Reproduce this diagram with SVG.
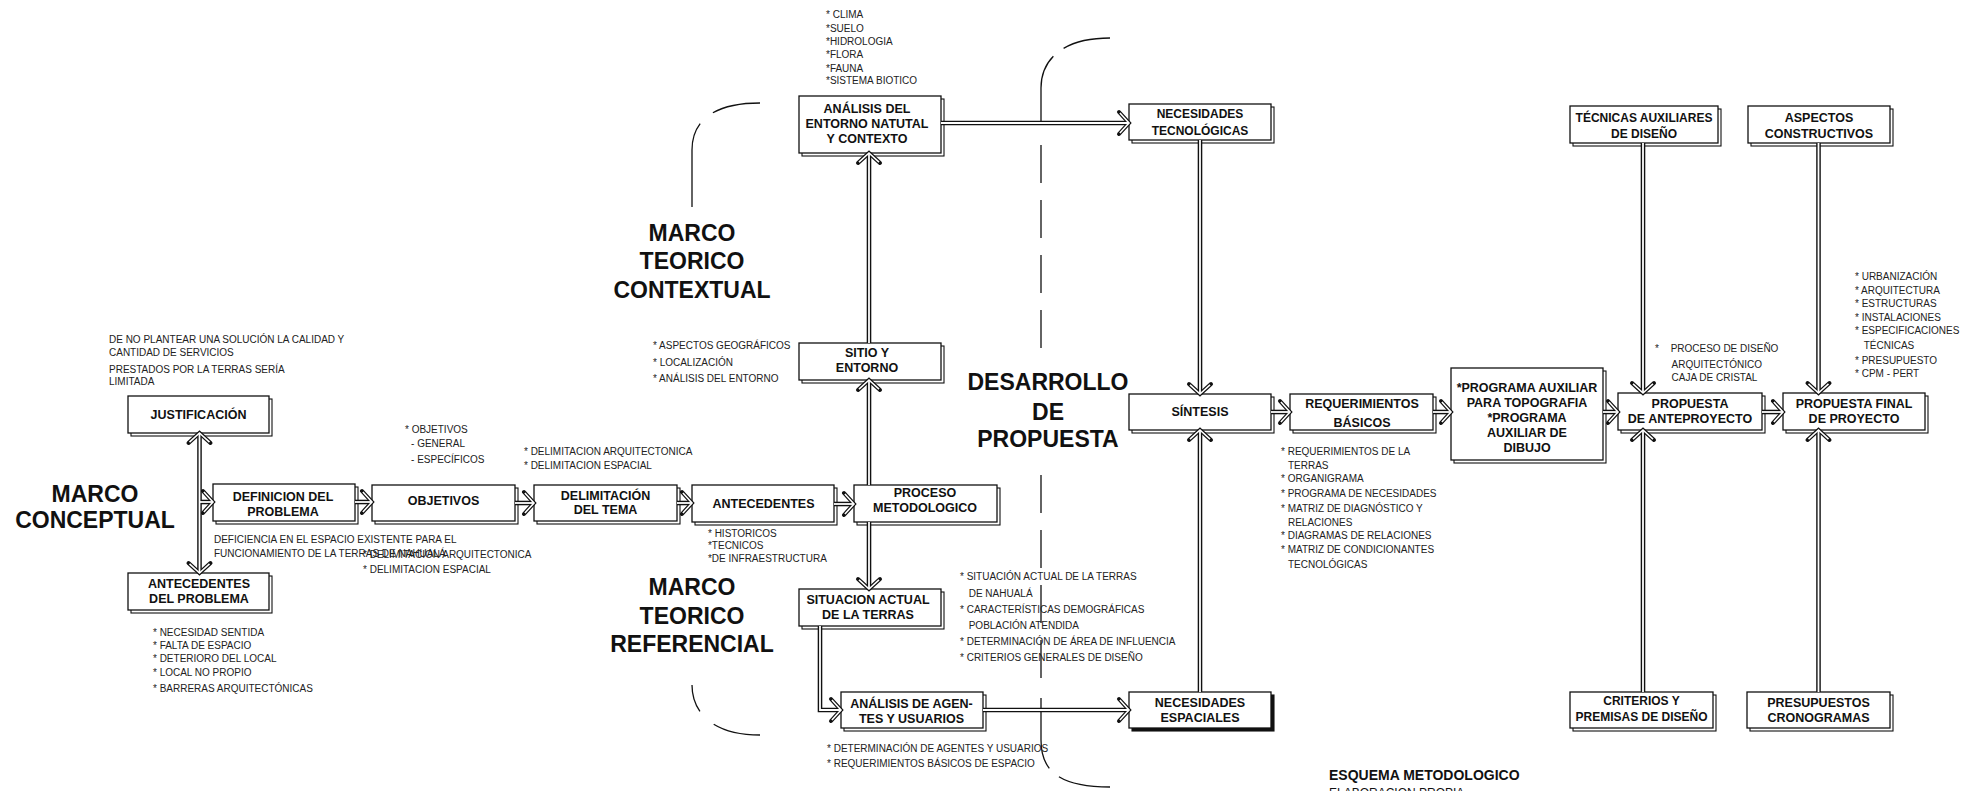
<svg xmlns="http://www.w3.org/2000/svg" xmlns:xlink="http://www.w3.org/1999/xlink" width="1968" height="791" viewBox="0 0 1968 791">
  <style>
    .bg { fill: #fff; }
    .box { fill: #fff; stroke: #111; stroke-width: 1.3; }
    .shd { fill: #fff; stroke: #111; stroke-width: 1.1; }
    .shd-solid { fill: #111; stroke: #111; stroke-width: 1.1; }
    .lbl { font-family: "Liberation Sans", Arial, sans-serif; font-weight: bold; font-size: 12.5px; fill: #111; text-anchor: middle; }
    .lbl-s { font-size: 12px; }
    .big { font-family: "Liberation Sans", Arial, sans-serif; font-weight: bold; font-size: 23px; fill: #111; text-anchor: middle; }
    .title { font-family: "Liberation Sans", Arial, sans-serif; font-weight: bold; font-size: 14px; fill: #111; }
    .sub { font-family: "Liberation Sans", Arial, sans-serif; font-size: 12px; fill: #111; }
    .n { font-family: "Liberation Sans", Arial, sans-serif; font-size: 11.5px; fill: #222;
         transform-box: fill-box; transform-origin: 0 0; transform: scaleX(0.87); }
    .dl-o { fill: none; stroke: #111; stroke-width: 4.6; stroke-linejoin: miter; }
    .dl-i { fill: none; stroke: #fff; stroke-width: 1.8; stroke-linejoin: miter; }
    .br { fill: none; stroke: #111; stroke-width: 1.3; }
  </style>
  <defs>
    <!-- open chevron arrowhead, tip at origin, pointing up -->
    <path id="chevO" d="M-11,10 L0,0 L11,10" stroke-linecap="round"/>
    <path id="chevI" d="M-10,9.1 L0,0 L10,9.1"/>
    <!-- double-line connector paths -->
    <path id="c1" d="M199.5,433 V573"/>
    <path id="c2" d="M199.5,502 H213"/>
    <path id="c3" d="M355,502 H372"/>
    <path id="c4" d="M515,503 H534"/>
    <path id="c5" d="M677,503 H692"/>
    <path id="c6" d="M834,504 H854"/>
    <path id="c7" d="M869,485 V380"/>
    <path id="c8" d="M869,343 V153"/>
    <path id="c9" d="M869,522 V589"/>
    <path id="c10" d="M820,626 V710 H841"/>
    <path id="c11" d="M983,710 H1129"/>
    <path id="c12" d="M941,123 H1129"/>
    <path id="c13" d="M1200,140 V394"/>
    <path id="c14" d="M1200,692 V430"/>
    <path id="c15" d="M1271,412 H1290"/>
    <path id="c16" d="M1433,412 H1451"/>
    <path id="c17" d="M1603,412 H1618"/>
    <path id="c18" d="M1762,412 H1783"/>
    <path id="c19" d="M1643,143 V393"/>
    <path id="c20" d="M1643,692 V430"/>
    <path id="c21" d="M1818.5,143 V393"/>
    <path id="c22" d="M1818.5,692 V430"/>
  </defs>

  <rect class="bg" x="0" y="0" width="1968" height="791"/>

  <!-- section brackets -->
  <g id="brackets">
    <path class="br" d="M692,207 V150 C692,122 712,103 760,103" stroke-dasharray="85 17 300"/>
    <path class="br" d="M692,685 C692,712 712,735 760,735" stroke-dasharray="28 19 300"/>
    <path class="br" d="M1041,123 V88 C1041,60 1062,38 1110,38" stroke-dasharray="70 13 300"/>
    <path class="br" d="M1041,145 V350" stroke-dasharray="38 17"/>
    <path class="br" d="M1041,475 V678" stroke-dasharray="38 17"/>
    <path class="br" d="M1041,698 V740 C1041,770 1058,787 1110,787" stroke-dasharray="72 13 300"/>
  </g>

  <!-- section headings -->
  <g id="headings">
    <text class="big" x="95" y="502">MARCO</text>
    <text class="big" x="95" y="528">CONCEPTUAL</text>
    <text class="big" x="692" y="241">MARCO</text>
    <text class="big" x="692" y="269">TEORICO</text>
    <text class="big" x="692" y="298">CONTEXTUAL</text>
    <text class="big" x="692" y="595">MARCO</text>
    <text class="big" x="692" y="624">TEORICO</text>
    <text class="big" x="692" y="652">REFERENCIAL</text>
    <text class="big" x="1048" y="390">DESARROLLO</text>
    <text class="big" x="1048" y="420">DE</text>
    <text class="big" x="1048" y="447">PROPUESTA</text>
    <text class="title" x="1329" y="780">ESQUEMA METODOLOGICO</text>
    <text class="sub" x="1329" y="797">ELABORACION PROPIA</text>
  </g>

  <!-- nodes -->
  <g id="justificacion">
    <rect class="shd" x="131" y="399" width="141" height="37"/>
    <rect class="box" x="128" y="396" width="141" height="37"/>
    <text class="lbl" x="198.5" y="419">JUSTIFICACIÓN</text>
  </g>
  <g id="definicion-problema">
    <rect class="shd" x="216" y="487" width="142" height="37"/>
    <rect class="box" x="213" y="484" width="142" height="37"/>
    <text class="lbl" x="283" y="501">DEFINICION DEL</text>
    <text class="lbl" x="283" y="515.5">PROBLEMA</text>
  </g>
  <g id="antecedentes-problema">
    <rect class="shd" x="131" y="576" width="141" height="37"/>
    <rect class="box" x="128" y="573" width="141" height="37"/>
    <text class="lbl" x="199" y="588">ANTECEDENTES</text>
    <text class="lbl" x="199" y="603">DEL PROBLEMA</text>
  </g>
  <g id="objetivos">
    <rect class="shd" x="375" y="488" width="143" height="36"/>
    <rect class="box" x="372" y="485" width="143" height="36"/>
    <text class="lbl" x="443.5" y="505">OBJETIVOS</text>
  </g>
  <g id="delimitacion">
    <rect class="shd" x="537" y="488" width="143" height="36"/>
    <rect class="box" x="534" y="485" width="143" height="36"/>
    <text class="lbl" x="605.5" y="500">DELIMITACIÓN</text>
    <text class="lbl" x="605.5" y="514">DEL TEMA</text>
  </g>
  <g id="antecedentes">
    <rect class="shd" x="695" y="488" width="142" height="37"/>
    <rect class="box" x="692" y="485" width="142" height="37"/>
    <text class="lbl" x="763.5" y="508">ANTECEDENTES</text>
  </g>
  <g id="proceso">
    <rect class="shd" x="857" y="488" width="143" height="37"/>
    <rect class="box" x="854" y="485" width="143" height="37"/>
    <text class="lbl" x="925" y="497">PROCESO</text>
    <text class="lbl" x="925" y="512">METODOLOGICO</text>
  </g>
  <g id="situacion">
    <rect class="shd" x="802" y="592" width="142" height="37"/>
    <rect class="box" x="799" y="589" width="142" height="37"/>
    <text class="lbl" x="868" y="604">SITUACION ACTUAL</text>
    <text class="lbl" x="868" y="619">DE LA TERRAS</text>
  </g>
  <g id="agentes">
    <rect class="shd" x="844" y="695" width="142" height="36"/>
    <rect class="box" x="841" y="692" width="142" height="36"/>
    <text class="lbl" x="911.5" y="708">ANÁLISIS DE AGEN-</text>
    <text class="lbl" x="911.5" y="723">TES Y USUARIOS</text>
  </g>
  <g id="sitio">
    <rect class="shd" x="802" y="346" width="142" height="37"/>
    <rect class="box" x="799" y="343" width="142" height="37"/>
    <text class="lbl" x="867" y="357">SITIO Y</text>
    <text class="lbl" x="867" y="372">ENTORNO</text>
  </g>
  <g id="entorno-natural">
    <rect class="shd" x="802" y="99" width="142" height="57"/>
    <rect class="box" x="799" y="96" width="142" height="57"/>
    <text class="lbl" x="867" y="113">ANÁLISIS DEL</text>
    <text class="lbl" x="867" y="128">ENTORNO NATUTAL</text>
    <text class="lbl" x="867" y="143">Y CONTEXTO</text>
  </g>
  <g id="necesidades-tecnologicas">
    <rect class="shd" x="1132" y="107" width="142" height="36"/>
    <rect class="box" x="1129" y="104" width="142" height="36"/>
    <text class="lbl lbl-s" x="1200" y="118">NECESIDADES</text>
    <text class="lbl lbl-s" x="1200" y="135">TECNOLÓGICAS</text>
  </g>
  <g id="sintesis">
    <rect class="shd" x="1132" y="397" width="142" height="36"/>
    <rect class="box" x="1129" y="394" width="142" height="36"/>
    <text class="lbl" x="1200" y="416">SÍNTESIS</text>
  </g>
  <g id="necesidades-espaciales">
    <rect class="shd-solid" x="1132" y="695" width="142" height="36"/>
    <rect class="box" x="1129" y="692" width="142" height="36"/>
    <text class="lbl" x="1200" y="707">NECESIDADES</text>
    <text class="lbl" x="1200" y="722">ESPACIALES</text>
  </g>
  <g id="requerimientos">
    <rect class="shd" x="1293" y="397" width="143" height="36"/>
    <rect class="box" x="1290" y="394" width="143" height="36"/>
    <text class="lbl" x="1362" y="408">REQUERIMIENTOS</text>
    <text class="lbl" x="1362" y="427">BÁSICOS</text>
  </g>
  <g id="programas-auxiliares">
    <rect class="shd" x="1454" y="371" width="152" height="92"/>
    <rect class="box" x="1451" y="368" width="152" height="92"/>
    <text class="lbl" x="1527" y="392">*PROGRAMA AUXILIAR</text>
    <text class="lbl" x="1527" y="407">PARA TOPOGRAFIA</text>
    <text class="lbl" x="1527" y="422">*PROGRAMA</text>
    <text class="lbl" x="1527" y="437">AUXILIAR DE</text>
    <text class="lbl" x="1527" y="452">DIBUJO</text>
  </g>
  <g id="anteproyecto">
    <rect class="shd" x="1621" y="396" width="144" height="37"/>
    <rect class="box" x="1618" y="393" width="144" height="37"/>
    <text class="lbl" x="1690" y="408">PROPUESTA</text>
    <text class="lbl" x="1690" y="423">DE ANTEPROYECTO</text>
  </g>
  <g id="propuesta-final">
    <rect class="shd" x="1786" y="396" width="142" height="37"/>
    <rect class="box" x="1783" y="393" width="142" height="37"/>
    <text class="lbl" x="1854" y="408">PROPUESTA FINAL</text>
    <text class="lbl" x="1854" y="423">DE PROYECTO</text>
  </g>
  <g id="tecnicas-auxiliares">
    <rect class="shd" x="1573" y="109" width="148" height="37"/>
    <rect class="box" x="1570" y="106" width="148" height="37"/>
    <text class="lbl lbl-s" x="1644" y="122">TÉCNICAS AUXILIARES</text>
    <text class="lbl lbl-s" x="1644" y="138">DE DISEÑO</text>
  </g>
  <g id="aspectos-constructivos">
    <rect class="shd" x="1751" y="109" width="142" height="37"/>
    <rect class="box" x="1748" y="106" width="142" height="37"/>
    <text class="lbl" x="1819" y="122">ASPECTOS</text>
    <text class="lbl" x="1819" y="138">CONSTRUCTIVOS</text>
  </g>
  <g id="criterios">
    <rect class="shd" x="1573" y="695" width="143" height="36"/>
    <rect class="box" x="1570" y="692" width="143" height="36"/>
    <text class="lbl lbl-s" x="1641.5" y="705">CRITERIOS Y</text>
    <text class="lbl lbl-s" x="1641.5" y="721">PREMISAS DE DISEÑO</text>
  </g>
  <g id="presupuestos">
    <rect class="shd" x="1750" y="695" width="143" height="36"/>
    <rect class="box" x="1747" y="692" width="143" height="36"/>
    <text class="lbl" x="1818.5" y="707">PRESUPUESTOS</text>
    <text class="lbl" x="1818.5" y="722">CRONOGRAMAS</text>
  </g>

  <!-- connectors: dark outline pass, then white core pass -->
  <g id="connectors">
    <g class="dl-o">
      <use xlink:href="#c1"/><use xlink:href="#c2"/><use xlink:href="#c3"/><use xlink:href="#c4"/>
      <use xlink:href="#c5"/><use xlink:href="#c6"/><use xlink:href="#c7"/><use xlink:href="#c8"/>
      <use xlink:href="#c9"/><use xlink:href="#c10"/><use xlink:href="#c11"/><use xlink:href="#c12"/>
      <use xlink:href="#c13"/><use xlink:href="#c14"/><use xlink:href="#c15"/><use xlink:href="#c16"/>
      <use xlink:href="#c17"/><use xlink:href="#c18"/><use xlink:href="#c19"/><use xlink:href="#c20"/>
      <use xlink:href="#c21"/><use xlink:href="#c22"/>
      <g stroke-width="4">
        <use xlink:href="#chevO" transform="translate(199.5,433)"/>
        <use xlink:href="#chevO" transform="translate(199.5,573) rotate(180)"/>
        <use xlink:href="#chevO" transform="translate(213,502) rotate(90)"/>
        <use xlink:href="#chevO" transform="translate(372,502) rotate(90)"/>
        <use xlink:href="#chevO" transform="translate(534,503) rotate(90)"/>
        <use xlink:href="#chevO" transform="translate(692,503) rotate(90)"/>
        <use xlink:href="#chevO" transform="translate(854,504) rotate(90)"/>
        <use xlink:href="#chevO" transform="translate(869,380)"/>
        <use xlink:href="#chevO" transform="translate(869,153)"/>
        <use xlink:href="#chevO" transform="translate(869,589) rotate(180)"/>
        <use xlink:href="#chevO" transform="translate(841,710) rotate(90)"/>
        <use xlink:href="#chevO" transform="translate(1129,710) rotate(90)"/>
        <use xlink:href="#chevO" transform="translate(1129,123) rotate(90)"/>
        <use xlink:href="#chevO" transform="translate(1200,394) rotate(180)"/>
        <use xlink:href="#chevO" transform="translate(1200,430)"/>
        <use xlink:href="#chevO" transform="translate(1290,412) rotate(90)"/>
        <use xlink:href="#chevO" transform="translate(1451,412) rotate(90)"/>
        <use xlink:href="#chevO" transform="translate(1618,412) rotate(90)"/>
        <use xlink:href="#chevO" transform="translate(1783,412) rotate(90)"/>
        <use xlink:href="#chevO" transform="translate(1643,393) rotate(180)"/>
        <use xlink:href="#chevO" transform="translate(1643,430)"/>
        <use xlink:href="#chevO" transform="translate(1818.5,393) rotate(180)"/>
        <use xlink:href="#chevO" transform="translate(1818.5,430)"/>
      </g>
    </g>
    <g class="dl-i">
      <use xlink:href="#c1"/><use xlink:href="#c2"/><use xlink:href="#c3"/><use xlink:href="#c4"/>
      <use xlink:href="#c5"/><use xlink:href="#c6"/><use xlink:href="#c7"/><use xlink:href="#c8"/>
      <use xlink:href="#c9"/><use xlink:href="#c10"/><use xlink:href="#c11"/><use xlink:href="#c12"/>
      <use xlink:href="#c13"/><use xlink:href="#c14"/><use xlink:href="#c15"/><use xlink:href="#c16"/>
      <use xlink:href="#c17"/><use xlink:href="#c18"/><use xlink:href="#c19"/><use xlink:href="#c20"/>
      <use xlink:href="#c21"/><use xlink:href="#c22"/>
      <g stroke-width="1.6">
        <use xlink:href="#chevI" transform="translate(199.5,433)"/>
        <use xlink:href="#chevI" transform="translate(199.5,573) rotate(180)"/>
        <use xlink:href="#chevI" transform="translate(213,502) rotate(90)"/>
        <use xlink:href="#chevI" transform="translate(372,502) rotate(90)"/>
        <use xlink:href="#chevI" transform="translate(534,503) rotate(90)"/>
        <use xlink:href="#chevI" transform="translate(692,503) rotate(90)"/>
        <use xlink:href="#chevI" transform="translate(854,504) rotate(90)"/>
        <use xlink:href="#chevI" transform="translate(869,380)"/>
        <use xlink:href="#chevI" transform="translate(869,153)"/>
        <use xlink:href="#chevI" transform="translate(869,589) rotate(180)"/>
        <use xlink:href="#chevI" transform="translate(841,710) rotate(90)"/>
        <use xlink:href="#chevI" transform="translate(1129,710) rotate(90)"/>
        <use xlink:href="#chevI" transform="translate(1129,123) rotate(90)"/>
        <use xlink:href="#chevI" transform="translate(1200,394) rotate(180)"/>
        <use xlink:href="#chevI" transform="translate(1200,430)"/>
        <use xlink:href="#chevI" transform="translate(1290,412) rotate(90)"/>
        <use xlink:href="#chevI" transform="translate(1451,412) rotate(90)"/>
        <use xlink:href="#chevI" transform="translate(1618,412) rotate(90)"/>
        <use xlink:href="#chevI" transform="translate(1783,412) rotate(90)"/>
        <use xlink:href="#chevI" transform="translate(1643,393) rotate(180)"/>
        <use xlink:href="#chevI" transform="translate(1643,430)"/>
        <use xlink:href="#chevI" transform="translate(1818.5,393) rotate(180)"/>
        <use xlink:href="#chevI" transform="translate(1818.5,430)"/>
      </g>
    </g>
  </g>

  <!-- annotation notes -->
  <g id="notes">
    <text class="n"><tspan x="109" y="343">DE NO PLANTEAR UNA SOLUCIÓN LA CALIDAD Y</tspan><tspan x="109" y="356">CANTIDAD DE SERVICIOS</tspan><tspan x="109" y="373">PRESTADOS POR LA TERRAS SERÍA</tspan><tspan x="109" y="385">LIMITADA</tspan></text>
    <text class="n"><tspan x="214" y="543">DEFICIENCIA EN EL ESPACIO EXISTENTE PARA EL</tspan><tspan x="214" y="557">FUNCIONAMIENTO DE LA TERRAS DE NAHUALÁ</tspan></text>
    <text class="n"><tspan x="363" y="558">* DELIMITACION ARQUITECTONICA</tspan><tspan x="363" y="573">* DELIMITACION ESPACIAL</tspan></text>
    <text class="n"><tspan x="153" y="636">* NECESIDAD SENTIDA</tspan><tspan x="153" y="649">* FALTA DE ESPACIO</tspan><tspan x="153" y="662">* DETERIORO DEL LOCAL</tspan><tspan x="153" y="676">* LOCAL NO PROPIO</tspan><tspan x="153" y="692">* BARRERAS ARQUITECTÓNICAS</tspan></text>
    <text class="n"><tspan x="405" y="433">* OBJETIVOS</tspan><tspan x="412" y="447">- GENERAL</tspan><tspan x="412" y="463">- ESPECÍFICOS</tspan></text>
    <text class="n"><tspan x="524" y="455">* DELIMITACION ARQUITECTONICA</tspan><tspan x="524" y="469">* DELIMITACION ESPACIAL</tspan></text>
    <text class="n"><tspan x="708" y="537">* HISTORICOS</tspan><tspan x="708" y="549">*TECNICOS</tspan><tspan x="708" y="562">*DE INFRAESTRUCTURA</tspan></text>
    <text class="n"><tspan x="826" y="18">* CLIMA</tspan><tspan x="826" y="32">*SUELO</tspan><tspan x="826" y="45">*HIDROLOGIA</tspan><tspan x="826" y="58">*FLORA</tspan><tspan x="826" y="72">*FAUNA</tspan><tspan x="826" y="84">*SISTEMA BIOTICO</tspan></text>
    <text class="n"><tspan x="653" y="349">* ASPECTOS GEOGRÁFICOS</tspan><tspan x="653" y="366">* LOCALIZACIÓN</tspan><tspan x="653" y="382">* ANÁLISIS DEL ENTORNO</tspan></text>
    <text class="n"><tspan x="960" y="580">* SITUACIÓN ACTUAL DE LA TERRAS</tspan><tspan x="970" y="597">DE NAHUALÁ</tspan><tspan x="960" y="613">* CARACTERÍSTICAS DEMOGRÁFICAS</tspan><tspan x="970" y="629">POBLACIÓN ATENDIDA</tspan><tspan x="960" y="645">* DETERMINACIÓN DE ÁREA DE INFLUENCIA</tspan><tspan x="960" y="661">* CRITERIOS GENERALES DE DISEÑO</tspan></text>
    <text class="n"><tspan x="827" y="752">* DETERMINACIÓN DE AGENTES Y USUARIOS</tspan><tspan x="827" y="767">* REQUERIMIENTOS BÁSICOS DE ESPACIO</tspan></text>
    <text class="n"><tspan x="1281" y="455">* REQUERIMIENTOS DE LA</tspan><tspan x="1289" y="469">TERRAS</tspan><tspan x="1281" y="482">* ORGANIGRAMA</tspan><tspan x="1281" y="497">* PROGRAMA DE NECESIDADES</tspan><tspan x="1281" y="512">* MATRIZ DE DIAGNÓSTICO Y</tspan><tspan x="1289" y="526">RELACIONES</tspan><tspan x="1281" y="539">* DIAGRAMAS DE RELACIONES</tspan><tspan x="1281" y="553">* MATRIZ DE CONDICIONANTES</tspan><tspan x="1289" y="568">TECNOLÓGICAS</tspan></text>
    <text class="n"><tspan x="1655" y="352">*</tspan><tspan x="1673" y="352">PROCESO DE DISEÑO</tspan><tspan x="1674" y="368">ARQUITECTÓNICO</tspan><tspan x="1674" y="381">CAJA DE CRISTAL</tspan></text>
    <text class="n"><tspan x="1855" y="280">* URBANIZACIÓN</tspan><tspan x="1855" y="294">* ARQUITECTURA</tspan><tspan x="1855" y="307">* ESTRUCTURAS</tspan><tspan x="1855" y="321">* INSTALACIONES</tspan><tspan x="1855" y="334">* ESPECIFICACIONES</tspan><tspan x="1865" y="349">TÉCNICAS</tspan><tspan x="1855" y="364">* PRESUPUESTO</tspan><tspan x="1855" y="377">* CPM - PERT</tspan></text>
  </g>
</svg>
